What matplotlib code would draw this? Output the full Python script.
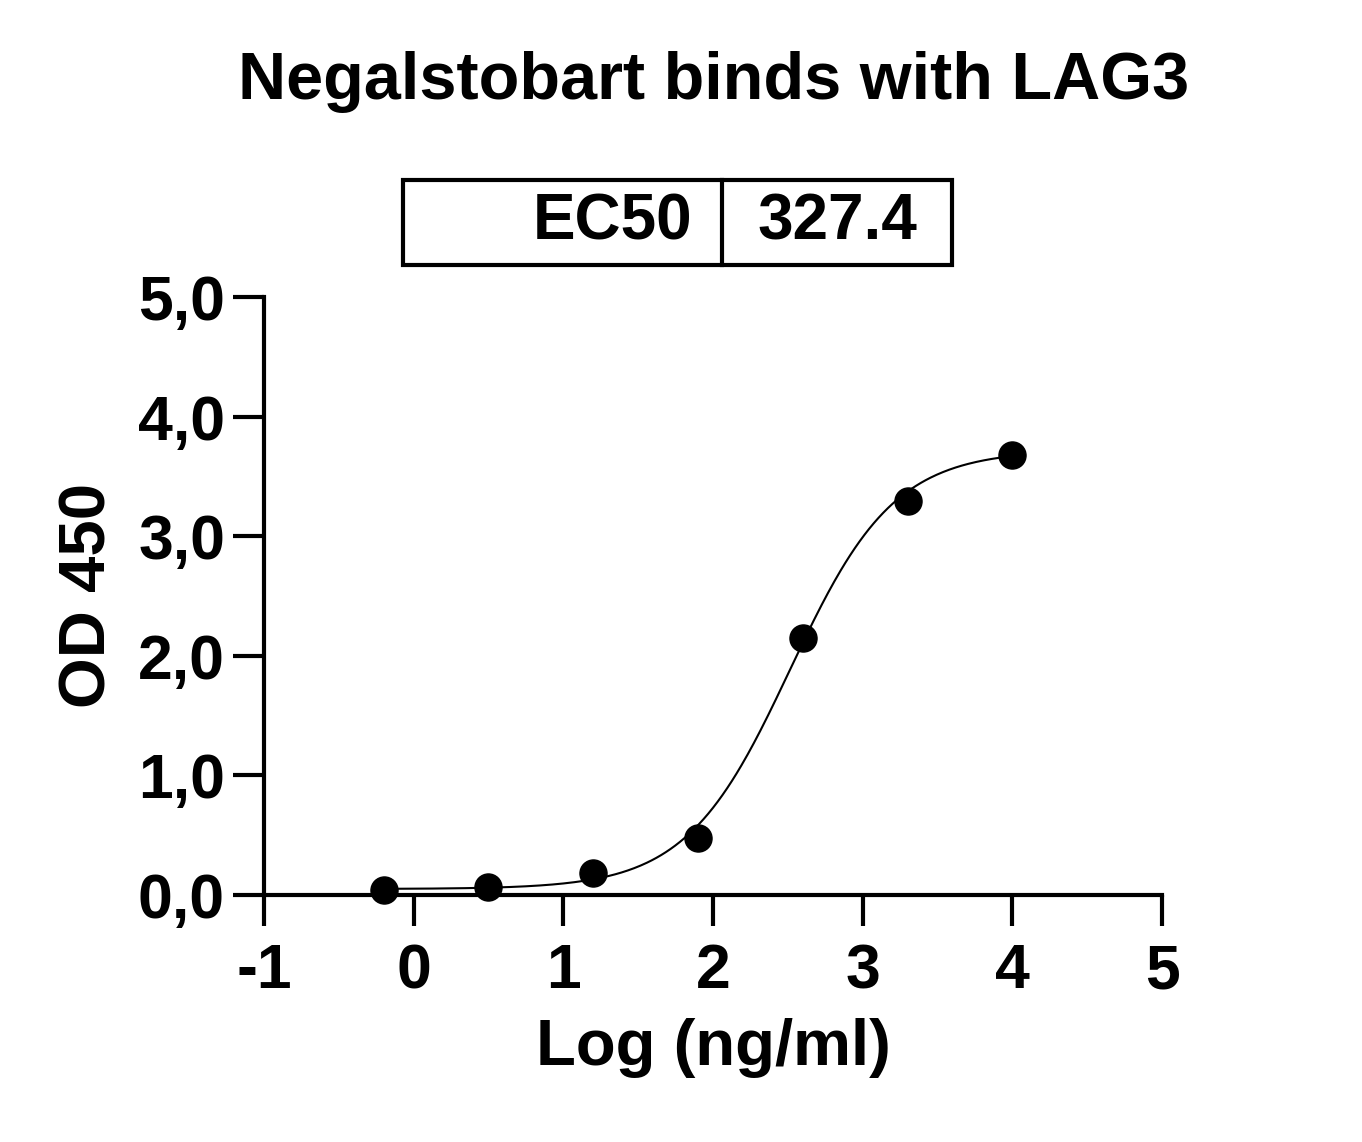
import numpy as np
import matplotlib
matplotlib.use("Agg")
import matplotlib.pyplot as plt
from matplotlib.patches import Rectangle

log_conc = [-0.2, 0.5, 1.2, 1.9, 2.6, 3.3, 4.0]
od450 = [0.04, 0.07, 0.18, 0.48, 2.15, 3.29, 3.68]
bottom, top, logec50, hill = 0.05, 3.72, np.log10(327.4), 1.25
xticks = [-1, 0, 1, 2, 3, 4, 5]
yticks = [0, 1, 2, 3, 4, 5]
ylabels = ["0,0", "1,0", "2,0", "3,0", "4,0", "5,0"]

plt.rcParams['font.family'] = ['Liberation Sans', 'DejaVu Sans']
fig = plt.figure(figsize=(13.62, 11.42), dpi=100)
ax = fig.add_axes([0.1938, 0.2163, 0.6594, 0.5237])
xs = np.linspace(-0.2, 4.0, 400)
ys = bottom + (top - bottom) / (1 + 10 ** ((logec50 - xs) * hill))
ax.plot(xs, ys, color='black', lw=1.5)
ax.scatter(log_conc, od450, s=380, color='black', zorder=3, clip_on=False)
ax.set_xlim(-1, 5)
ax.set_ylim(0, 5)
ax.set_xticks(xticks)
ax.set_xticklabels([str(t) for t in xticks])
ax.set_yticks(yticks)
ax.set_yticklabels(ylabels)
for s in ['top', 'right']:
    ax.spines[s].set_visible(False)
for s in ['left', 'bottom']:
    ax.spines[s].set_linewidth(3)
ax.tick_params(width=3, length=22, labelsize=45, pad=6)
ax.tick_params(axis='x', pad=12)
for lab in ax.get_xticklabels() + ax.get_yticklabels():
    lab.set_fontweight('bold')
ax.set_xlabel("Log (ng/ml)", fontsize=47, fontweight='bold', labelpad=12)
ax.set_ylabel("OD 450", fontsize=47, fontweight='bold', labelpad=14)
fig.text(0.524, 0.928, "Negalstobart binds with LAG3", ha='center', va='center',
         fontsize=48, fontweight='bold')
# EC50 table
W, H = 1362, 1142
x0, x1, xm = 403 / W, 952 / W, 722 / W
y0, y1 = (H - 265) / H, (H - 180) / H
fig.patches.append(Rectangle((x0, y0), x1 - x0, y1 - y0, transform=fig.transFigure,
                             fill=False, lw=3, edgecolor='black'))
fig.add_artist(plt.Line2D([xm, xm], [y0, y1], transform=fig.transFigure, lw=3, color='black'))
fig.text(692 / W, (y0 + y1) / 2, "EC50", ha='right', va='center', fontsize=46, fontweight='bold')
fig.text(837 / W, (y0 + y1) / 2, "327.4", ha='center', va='center', fontsize=46, fontweight='bold')
fig.savefig("out.png", dpi=100)
